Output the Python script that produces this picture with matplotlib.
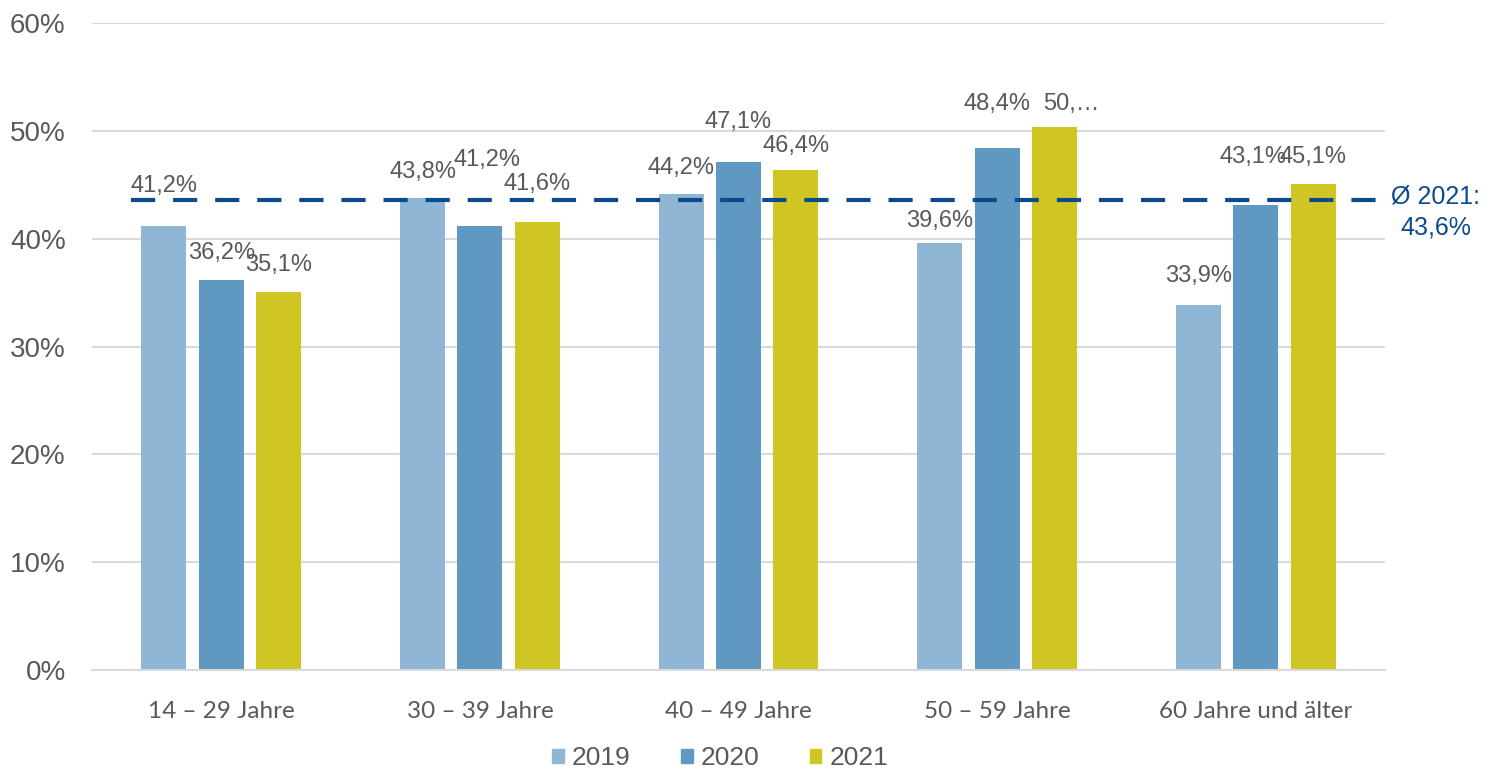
import numpy as np
import matplotlib
matplotlib.use("Agg")
import matplotlib.pyplot as plt
from matplotlib.patches import Patch

categories = ["14 – 29 Jahre", "30 – 39 Jahre", "40 – 49 Jahre", "50 – 59 Jahre", "60 Jahre und älter"]
years = ["2019", "2020", "2021"]
values_2019 = [41.2, 43.8, 44.2, 39.6, 33.9]
values_2020 = [36.2, 41.2, 47.1, 48.4, 43.1]
values_2021 = [35.1, 41.6, 46.4, 50.4, 45.1]
avg_2021 = 43.6
yticks = [0, 10, 20, 30, 40, 50, 60]

colors = ["#8fb6d4", "#5f98c0", "#cfc523"]
text_grey = "#595959"
navy = "#0b4a8c"

# label placement (pixels above bar top, x shift) to mimic the original
label_dy = [[40, 26, 26, 22, 29],
            [27, 66, 40, 44, 48],
            [27, 38, 24, 23, 27]]
label_dx = [[0, 0, 0, 0, 0],
            [0, 7, 0, 0, -3],
            [0, 0, 0, 17, 0]]


def fmt(v):
    return f"{v:.1f}".replace(".", ",") + "%"


def main():
    plt.rcParams["font.family"] = ["Liberation Sans", "DejaVu Sans"]
    fig = plt.figure(figsize=(14.94, 7.73), dpi=100)
    ax = fig.add_axes([0.0616, 0.1332, 0.8655, 0.8368])

    x = np.arange(len(categories))
    width = 0.174
    step = 0.222
    series = [values_2019, values_2020, values_2021]
    for i, vals in enumerate(series):
        pos = x + (i - 1) * step
        ax.bar(pos, vals, width, color=colors[i], zorder=2)
        for j, v in enumerate(vals):
            label = fmt(v)
            if i == 2 and j == 3:
                label = "50,…"
            ax.annotate(label, (pos[j], v), xytext=(label_dx[i][j], label_dy[i][j]),
                        textcoords="offset pixels", ha="center", va="center",
                        fontsize=17, color=text_grey, zorder=4)

    ax.plot([-0.35, 4.5], [avg_2021, avg_2021], color=navy, lw=3,
            dashes=(5.8, 4.3), zorder=3)
    ax.text(1.039, 0.708, "Ø 2021:\n" + fmt(avg_2021), transform=ax.transAxes,
            ha="center", va="center", fontsize=18, color=navy, linespacing=1.4)

    ax.set_xlim(-0.5, 4.5)
    ax.set_ylim(0, 60)
    ax.set_yticks(yticks)
    ax.set_yticklabels([f"{t}%" for t in yticks], fontsize=20, color=text_grey)
    ax.set_xticks(x)
    ax.set_xticklabels(categories, fontsize=17.5, color=text_grey, family=["Lato", "DejaVu Sans"])
    ax.tick_params(axis="both", length=0)
    ax.tick_params(axis="y", pad=19)
    ax.tick_params(axis="x", pad=22)
    ax.grid(axis="y", color="#d9d9d9", lw=1.5, zorder=0)
    ax.set_axisbelow(True)
    for s in ["top", "right", "left"]:
        ax.spines[s].set_visible(False)
    ax.spines["bottom"].set_color("#d9d9d9")
    ax.spines["bottom"].set_linewidth(1.5)

    handles = [Patch(color=c, label=y) for c, y in zip(colors, years)]
    fig.legend(handles=handles, loc="center", bbox_to_anchor=(0.482, 0.019), ncol=3,
               frameon=False, fontsize=19, handlelength=0.45, handleheight=0.45,
               handletextpad=0.3, columnspacing=1.9, labelcolor=text_grey)

    fig.savefig("out.png", dpi=100)


if __name__ == "__main__":
    main()
